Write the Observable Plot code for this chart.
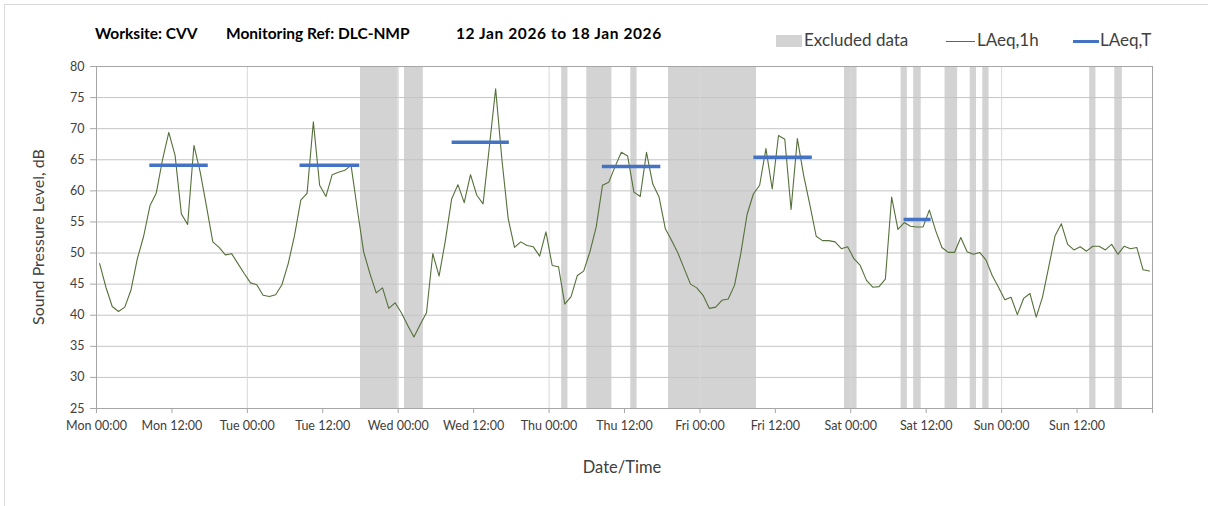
<!DOCTYPE html>
<html>
<head>
<meta charset="utf-8">
<script src="https://cdn.jsdelivr.net/npm/d3@7"></script>
<script src="https://cdn.jsdelivr.net/npm/@observablehq/plot@0.6"></script>
<style>
  html, body { margin: 0; padding: 0; background: #fff; }
  #wrap { position: relative; width: 1208px; height: 506px; overflow: hidden; font-family: Lato, "Open Sans", sans-serif; color: #404040; }
  #wrap svg { position: absolute; left: 0; top: 0; }
  #border { position: absolute; left: 4px; top: 4px; width: 1300px; height: 600px; border-left: 1px solid #d9d9d9; border-top: 1px solid #d9d9d9; }
  .t { position: absolute; white-space: pre; }
  .title { top: 24px; font-weight: bold; font-size: 15.5px; color: #000; }
  .leg { top: 29px; font-size: 17px; color: #404040; }
  #ylab { position: absolute; left: 37px; top: 237px; transform: translate(-50%, -50%) rotate(-90deg); font-size: 16px; white-space: nowrap; color: #404040; }
  #xlab { position: absolute; left: 622px; top: 467px; transform: translate(-50%, -50%); font-size: 16.5px; white-space: nowrap; color: #404040; }
</style>
</head>
<body>
<div id="wrap">
  <div id="border"></div>
</div>
<script>
// ---- Data ----
const titleParts = ["Worksite: CVV", "Monitoring Ref: DLC-NMP", "12 Jan 2026 to 18 Jan 2026"];
const xTickLabels = ["Mon 00:00","Mon 12:00","Tue 00:00","Tue 12:00","Wed 00:00","Wed 12:00","Thu 00:00","Thu 12:00","Fri 00:00","Fri 12:00","Sat 00:00","Sat 12:00","Sun 00:00","Sun 12:00",""];
const xTickHours = [0,12,24,36,48,60,72,84,96,108,120,132,144,156,168];
const dayGridHours = [24,48,72,96,120,144];
const yTicks = [25,30,35,40,45,50,55,60,65,70,75,80];

// LAeq,1h hourly values (dB), Mon 00:00 .. Sun 23:00
const laeq1h = [
  48.3,44.5,41.4,40.6,41.3,44.1,49.1,52.7,57.6,59.6,
  65.0,69.4,65.7,56.3,54.6,67.3,63.0,57.5,51.8,50.9,
  49.7,49.9,48.3,46.7,45.2,44.9,43.2,43.0,43.3,44.9,
  48.3,52.8,58.5,59.6,71.1,60.9,59.1,62.6,63.0,63.3,
  64.1,57.0,50.2,46.7,43.6,44.4,41.1,42.0,40.4,38.4,
  36.5,38.5,40.4,49.9,46.3,52.0,58.7,61.0,58.1,62.6,
  59.3,57.9,67.1,76.4,65.0,55.5,50.9,51.8,51.2,51.0,
  49.5,53.4,48.0,47.8,41.8,43.0,46.4,47.1,50.2,54.2,
  60.9,61.4,63.9,66.2,65.6,59.8,59.1,66.2,61.1,59.0,
  53.9,52.0,50.0,47.5,45.0,44.4,43.2,41.1,41.3,42.4,
  42.6,44.8,49.9,56.2,59.5,60.9,66.8,60.3,68.9,68.3,
  57.0,68.4,62.5,57.7,52.7,52.0,52.0,51.8,50.7,51.0,
  49.1,48.0,45.6,44.5,44.6,45.8,59.0,53.8,54.9,54.3,
  54.2,54.2,56.9,53.6,50.9,50.1,50.1,52.5,50.2,49.8,
  50.1,48.9,46.4,44.5,42.5,42.9,40.1,42.7,43.5,39.7,
  42.9,47.8,52.8,54.7,51.4,50.5,51.0,50.3,51.1,51.1,
  50.5,51.4,49.8,51.1,50.7,50.9,47.3,47.1
];

// Excluded data periods (hours from Mon 00:00)
const excludedStart = [42,49,74,78,85,91,119,128,130,135,139,141,158,162];
const excludedEnd   = [48,52,75,82,86,105,121,129,131.2,137,140,142,159,163.2];

// LAeq,T periods (hours from Mon 00:00) and levels (dB)
const laeqTStart = [8.4,32.3,56.5,80.4,104.5,128.4];
const laeqTEnd   = [17.7,41.8,65.6,89.7,113.8,132.7];
const laeqTValue = [64.1,64.1,67.8,63.9,65.4,55.4];

// ---- Build tables ----
const hourly = laeq1h.map((v, i) => ({h: i + 0.5, v}));
const excluded = excludedStart.map((s, i) => ({s, e: excludedEnd[i]}));
const periods = laeqTStart.map((s, i) => ({s, e: laeqTEnd[i], v: laeqTValue[i]}));

const chart = Plot.plot({
  width: 1208,
  height: 506,
  marginLeft: 96,
  marginRight: 56,
  marginTop: 66,
  marginBottom: 98,
  style: {fontFamily: "Lato, 'Open Sans', sans-serif", fontSize: "12.5px", color: "#404040", background: "transparent", overflow: "visible"},
  x: {domain: [0, 168]},
  y: {domain: [25, 80]},
  marks: [
    Plot.rect(excluded, {x1: "s", x2: "e", fill: "#d3d3d3"}),
    Plot.gridY({ticks: yTicks, stroke: "#c4c4c4", strokeOpacity: 1}),
    Plot.gridX({ticks: dayGridHours, stroke: "#d9d9d9", strokeOpacity: 1}),
    Plot.line(hourly, {x: "h", y: "v", stroke: "#55703a", strokeWidth: 1.1}),
    Plot.link(periods, {x1: "s", x2: "e", y1: "v", y2: "v", stroke: "#4472c4", strokeWidth: 3.5}),
    Plot.frame({stroke: "#a6a6a6"}),
    Plot.axisX({ticks: xTickHours, tickFormat: (d, i) => xTickLabels[i], tickSize: 5, tickPadding: 8, stroke: "#a6a6a6", label: null, fill: "#404040"}),
    Plot.axisY({ticks: yTicks, tickSize: 6, tickPadding: 6, stroke: "#a6a6a6", label: null, fill: "#404040"})
  ]
});

const wrap = document.getElementById("wrap");
wrap.appendChild(chart);

// Title
const titleLeft = [95, 226, 456];
const titleSpacing = ["0px", "0px", "0.6px"];
titleParts.forEach((t, i) => {
  const d = document.createElement("div");
  d.className = "t title";
  d.style.left = titleLeft[i] + "px";
  d.style.letterSpacing = titleSpacing[i];
  d.textContent = t;
  wrap.appendChild(d);
});

// Legend
const legendHTML = `
  <div class="t" style="left:776px;top:35px;width:26px;height:12px;background:#d3d3d3"></div>
  <div class="t leg" style="left:804px">Excluded data</div>
  <div class="t" style="left:946px;top:41px;width:29px;height:1.2px;background:#55703a"></div>
  <div class="t leg" style="left:977px">LAeq,1h</div>
  <div class="t" style="left:1073px;top:39.5px;width:26px;height:3px;background:#4472c4"></div>
  <div class="t leg" style="left:1100px">LAeq,T</div>
  <div id="ylab">Sound Pressure Level, dB</div>
  <div id="xlab">Date/Time</div>`;
wrap.insertAdjacentHTML("beforeend", legendHTML);
</script>
</body>
</html>
